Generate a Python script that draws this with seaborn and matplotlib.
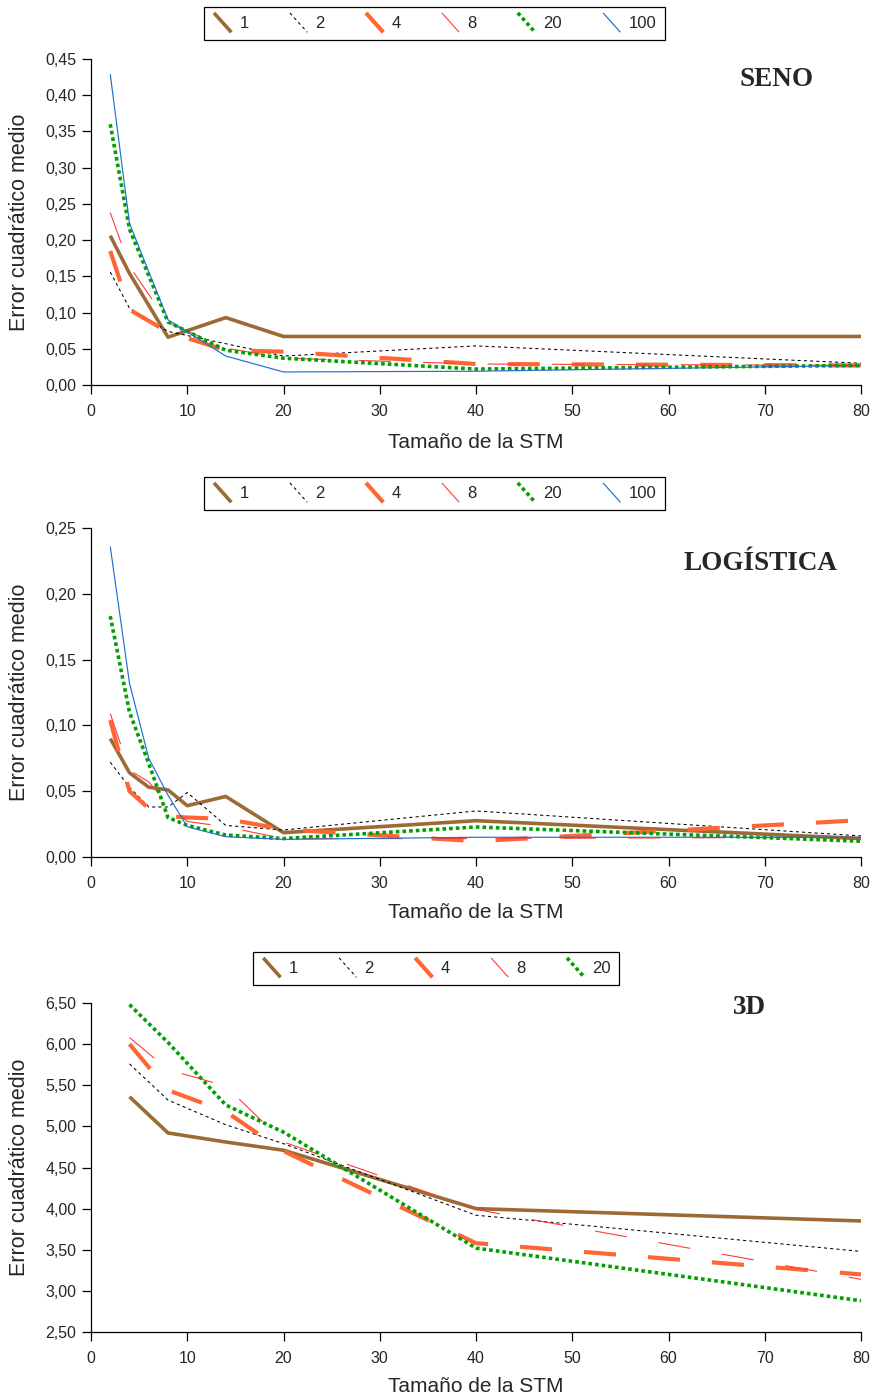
import matplotlib
matplotlib.use("Agg")
import matplotlib.pyplot as plt
import seaborn as sns
import numpy as np
from matplotlib.lines import Line2D
from matplotlib.legend_handler import HandlerBase
from matplotlib.ticker import FuncFormatter, MultipleLocator

# ---------------- data ----------------
series_labels = ["1", "2", "4", "8", "20", "100"]

# SENO
x_seno = [2, 4, 8, 14, 20, 40, 80]
seno_1 = [0.206, 0.154, 0.066, 0.093, 0.067, 0.067, 0.067]
seno_2 = [0.156, 0.106, 0.074, 0.057, 0.040, 0.054, 0.030]
seno_4 = [0.185, 0.104, 0.073, 0.048, 0.046, 0.029, 0.027]
seno_8 = [0.238, 0.164, 0.086, 0.051, 0.037, 0.029, 0.027]
seno_20 = [0.360, 0.215, 0.087, 0.048, 0.037, 0.022, 0.027]
seno_100 = [0.429, 0.223, 0.090, 0.040, 0.018, 0.019, 0.027]

# LOGÍSTICA
x_log = [2, 4, 6, 8, 10, 14, 20, 40, 80]
log_1 = [0.090, 0.064, 0.053, 0.051, 0.039, 0.046, 0.0185, 0.0276, 0.014]
log_2 = [0.072, 0.053, 0.038, 0.038, 0.049, 0.024, 0.0205, 0.035, 0.016]
log_4 = [0.104, 0.050, 0.037, 0.031, 0.030, 0.029, 0.021, 0.012, 0.028]
log_8 = [0.109, 0.066, 0.057, 0.040, 0.027, 0.023, 0.014, 0.014, 0.015]
log_20 = [0.183, 0.110, 0.071, 0.030, 0.024, 0.0167, 0.014, 0.0228, 0.012]
log_100 = [0.236, 0.132, 0.075, 0.047, 0.023, 0.0154, 0.0134, 0.015, 0.015]

# 3D
x_3d = [4, 8, 14, 20, 40, 80]
d3_1 = [5.36, 4.92, 4.81, 4.71, 4.00, 3.85]
d3_2 = [5.76, 5.32, 5.02, 4.79, 3.92, 3.48]
d3_4 = [6.00, 5.44, 5.18, 4.70, 3.58, 3.20]
d3_8 = [6.08, 5.69, 5.49, 4.81, 3.99, 3.14]
d3_20 = [6.48, 6.02, 5.26, 4.93, 3.52, 2.88]

# ---------------- styles ----------------
styles = {
    "1": dict(color="#9C6B35", lw=2.6, ls="-"),
    "2": dict(color="#000000", lw=0.75, ls=(0, (3, 3))),
    "4": dict(color="#FF6633", lw=3.0, ls=(0, (7.7, 7.7))),
    "8": dict(color="#FF3B3B", lw=0.8, ls=(0, (29, 29))),
    "20": dict(color="#00A000", lw=2.6, ls=(0, (1.0, 0.85))),
    "100": dict(color="#1F6FD0", lw=0.85, ls="-"),
}

sns.set_style("ticks")
plt.rcParams["font.family"] = ["Liberation Sans", "DejaVu Sans"]
plt.rcParams["lines.dash_capstyle"] = "butt"
plt.rcParams["lines.solid_capstyle"] = "butt"


class DiagHandler(HandlerBase):
    def create_artists(self, legend, orig_handle, xdescent, ydescent,
                       width, height, fontsize, trans):
        x0, y0 = -xdescent, -ydescent
        line = Line2D([x0 + 0.1 * width, x0 + 0.9 * width],
                      [y0 + 1.2 * height, y0 - 0.2 * height])
        line.update_from(orig_handle)
        line.set_transform(trans)
        return [line]


comma = FuncFormatter(lambda v, p: f"{v:.2f}".replace(".", ","))

fig = plt.figure(figsize=(8.76, 14), dpi=100)
left, width = 91 / 876, 770 / 876


def panel(bottom_px, top_px, xs, ys_list, labels, ylim, ystep, title, title_xy,
          legend_center, xlabel_y):
    h_px = bottom_px - top_px
    ax = fig.add_axes([left, 1 - bottom_px / 1400, width, h_px / 1400])
    handles = []
    for lab, ys in zip(labels, ys_list):
        st = styles[lab]
        sns.lineplot(x=xs, y=ys, ax=ax, color=st["color"], linewidth=st["lw"],
                     linestyle=st["ls"], label=lab, legend=False)
        handles.append(Line2D([], [], color=st["color"], linewidth=st["lw"], linestyle=st["ls"]))
    ax.set_xlim(0, 80)
    ax.set_ylim(*ylim)
    ax.xaxis.set_major_locator(MultipleLocator(10))
    ax.yaxis.set_major_locator(MultipleLocator(ystep))
    ax.yaxis.set_major_formatter(comma)
    ax.tick_params(axis="both", labelsize=11.5, direction="out", length=6.5, width=0.9,
                   color="black", pad=4)
    ax.tick_params(axis="x", pad=7)
    for s in ["left", "bottom"]:
        ax.spines[s].set_linewidth(0.9)
        ax.spines[s].set_color("black")
    sns.despine(ax=ax)
    ax.set_xlabel("Tamaño de la STM", fontsize=15)
    ax.set_ylabel("Error cuadrático medio", fontsize=15.5)
    ax.xaxis.set_label_coords(0.5, -(xlabel_y - bottom_px) / h_px)
    ax.xaxis.label.set_va("center")
    ax.yaxis.set_label_coords((20 - 91) / 770, 0.5)
    ax.yaxis.label.set_va("center")
    ax.text(title_xy[0] / 876, 1 - title_xy[1] / 1400, title, transform=fig.transFigure,
            family=["Liberation Serif", "DejaVu Serif"], fontweight="bold", fontsize=19.5,
            ha="center", va="center")
    leg = fig.legend(handles, labels, loc="center",
                     bbox_to_anchor=(legend_center[0] / 876, 1 - legend_center[1] / 1400),
                     ncol=len(labels), fontsize=12, frameon=True, fancybox=False,
                     edgecolor="black", framealpha=1, handlelength=1.3, handleheight=0.9,
                     handletextpad=0.35, columnspacing=2.35, borderpad=0.5,
                     handler_map={Line2D: DiagHandler()})
    leg.get_frame().set_linewidth(0.9)
    return ax


panel(385, 59, x_seno, [seno_1, seno_2, seno_4, seno_8, seno_20, seno_100], series_labels,
      (0, 0.45), 0.05, "SENO", (777, 79), (434, 23.5), 443)
panel(857, 528, x_log, [log_1, log_2, log_4, log_8, log_20, log_100], series_labels,
      (0, 0.25), 0.05, "LOGÍSTICA", (761, 563), (434, 493.5), 913)
panel(1332, 1003, x_3d, [d3_1, d3_2, d3_4, d3_8, d3_20], series_labels[:5],
      (2.5, 6.5), 0.5, "3D", (749, 1007), (436, 968.5), 1387)

fig.savefig("out.png", dpi=100)
